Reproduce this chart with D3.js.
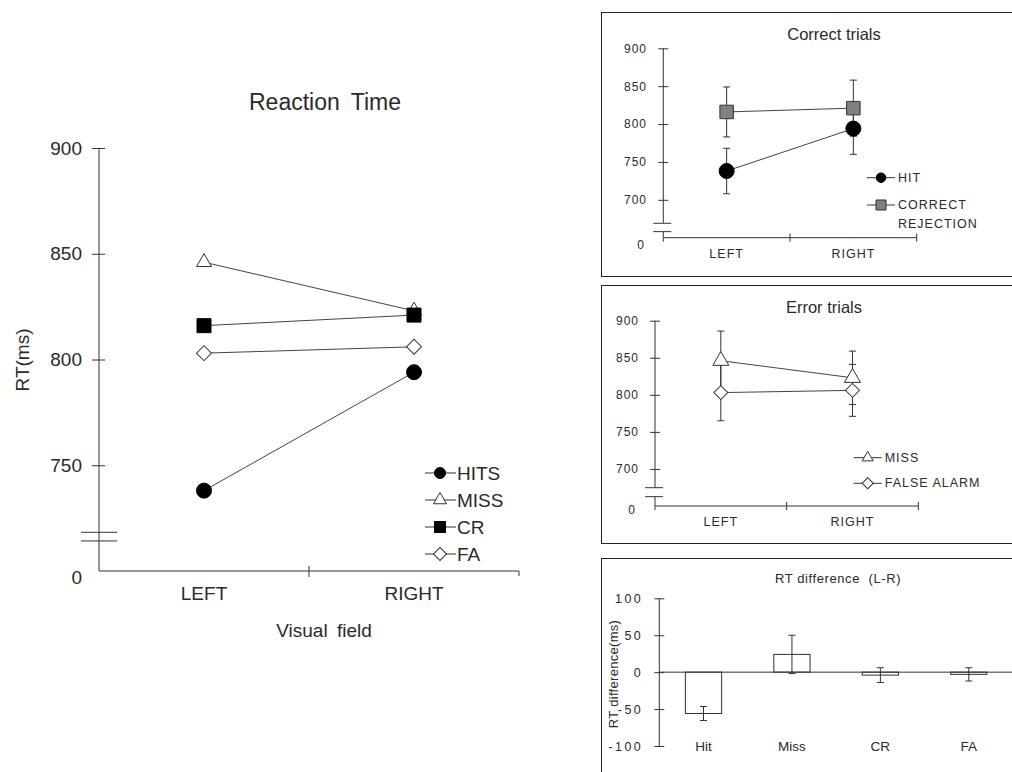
<!DOCTYPE html>
<html>
<head>
<meta charset="UTF-8">
<title>Reaction Time</title>
<script src="https://cdn.jsdelivr.net/npm/d3@7"></script>
<style>
  body { margin: 0; background: #fff; }
  svg text { font-family: "Liberation Sans", Arial, sans-serif; fill: #2a2a2a; }
</style>
</head>
<body>
<svg id="chart" width="1012" height="772"></svg>
<script>
// values (ms)
const fields = ["LEFT", "RIGHT"];
const hitRT = [738, 794];
const missRT = [846, 823];
const crRT = [816, 821];
const faRT = [803, 806];
const hitSE = [30, 34];
const crSE = [33, 37];
const missSE = [40, 36];
const faSE = [38, 35];
const mainTicks = [750, 800, 850, 900];
const panelTicks = [700, 750, 800, 850, 900];
const diffCats = ["Hit", "Miss", "CR", "FA"];
const diffRT = [-56, 24, -4, -3];
const diffSE = [9.5, 26, 10, 9];
const diffTicks = [-100, -50, 0, 50, 100];

const svg = d3.select("#chart");
const ink = "#333";

// draws one marker shape centred on x,y, w = width in px
function marker(g, kind, x, y, w, fill) {
    let sym = d3.symbol(), rot = 0;
    if (kind == "circle") sym.type(d3.symbolCircle).size(Math.PI * w * w / 4);
    else if (kind == "square") sym.type(d3.symbolSquare).size(w * w);
    else if (kind == "triangle") sym.type(d3.symbolTriangle).size(Math.sqrt(3) / 4 * w * w);
    else { sym.type(d3.symbolSquare).size(w * w / 2); rot = 45; }
    g.append("path")
        .attr("d", sym())
        .attr("transform", `translate(${x},${y}) rotate(${rot})`)
        .attr("fill", fill)
        .attr("stroke", fill == "#000" ? "#000" : ink)
        .attr("stroke-width", 1);
}

function hline(g, x1, x2, y) {
    g.append("line").attr("x1", x1).attr("x2", x2).attr("y1", y).attr("y2", y).attr("stroke", ink);
}
function vline(g, x, y1, y2) {
    g.append("line").attr("x1", x).attr("x2", x).attr("y1", y1).attr("y2", y2).attr("stroke", ink);
}

// ---------- main chart: Reaction Time ----------
{
    const g = svg.append("g");
    const x = d3.scaleBand().domain(fields).range([99, 519]);
    const y = d3.scaleLinear().domain([700, 900]).range([571, 148]);
    const cx = d => x(d) + x.bandwidth() / 2;

    const ya = g.append("g").attr("transform", "translate(99,0)")
        .call(d3.axisLeft(y).tickValues(mainTicks).tickSize(7));
    ya.select(".domain").remove();
    ya.selectAll(".tick line").attr("x1", 6).attr("x2", -7).attr("stroke", ink);
    ya.selectAll(".tick text").attr("x", -17).style("font-size", "19px");
    vline(g, 99, y(900), y(700));
    hline(g, 81, 117, y(718.3));
    hline(g, 81, 117, y(714.2));
    g.append("text").attr("x", 82).attr("y", y(700) + 6).attr("text-anchor", "end")
        .attr("dominant-baseline", "central").style("font-size", "19px").text("0");

    // x axis, ticks sit on the band edges
    hline(g, 99, 519, y(700));
    vline(g, x("RIGHT"), y(700) - 5, y(700) + 6);
    vline(g, 519, y(700), y(700) + 5);
    const xa = g.append("g").attr("transform", `translate(0,${y(700)})`)
        .call(d3.axisBottom(x).tickSize(0).tickPadding(16));
    xa.select(".domain").remove();
    xa.selectAll(".tick text").style("font-size", "19px");

    g.append("text").attr("x", 325).attr("y", 102).attr("text-anchor", "middle")
        .attr("dominant-baseline", "central").style("font-size", "23px").style("word-spacing", "5px")
        .text("Reaction Time");
    g.append("text").attr("x", 324).attr("y", 630).attr("text-anchor", "middle")
        .attr("dominant-baseline", "central").style("font-size", "19px").style("word-spacing", "4px")
        .text("Visual field");
    g.append("text").attr("transform", "translate(22,360) rotate(-90)").attr("text-anchor", "middle")
        .attr("dominant-baseline", "central").style("font-size", "19px").text("RT(ms)");

    const series = [
        { name: "HITS", vals: hitRT, kind: "circle", fill: "#000", w: 15, lw: 11 },
        { name: "MISS", vals: missRT, kind: "triangle", fill: "#fff", w: 15, lw: 13 },
        { name: "CR", vals: crRT, kind: "square", fill: "#000", w: 14, lw: 11 },
        { name: "FA", vals: faRT, kind: "diamond", fill: "#fff", w: 15, lw: 13 }
    ];
    const line = d3.line().x((v, i) => cx(fields[i])).y(v => y(v));
    series.forEach(s => {
        g.append("path").attr("d", line(s.vals)).attr("fill", "none").attr("stroke", "#444");
    });
    series.forEach(s => {
        s.vals.forEach((v, i) => marker(g, s.kind, cx(fields[i]), y(v), s.w, s.fill));
    });

    series.forEach((s, i) => {
        const ly = 473 + i * 27;
        hline(g, 425, 456, ly);
        marker(g, s.kind, 440, ly, s.lw, s.fill);
        g.append("text").attr("x", 457).attr("y", ly).attr("dominant-baseline", "central")
            .style("font-size", "19px").text(s.name);
    });
}

// ---------- small line panels with error bars ----------
function linePanel(p) {
    const g = svg.append("g");
    g.append("rect").attr("x", 601.5).attr("y", p.top + 0.5).attr("width", 440)
        .attr("height", p.bottom - p.top).attr("fill", "none").attr("stroke", "#222");
    const x = d3.scaleBand().domain(fields).range([p.x0, p.x1]);
    const y = d3.scaleLinear().domain([650, 900]).range([p.y0, p.y1]);
    const cx = d => x(d) + x.bandwidth() / 2;

    const ya = g.append("g").attr("transform", `translate(${p.x0},0)`)
        .call(d3.axisLeft(y).tickValues(panelTicks).tickSize(5));
    ya.select(".domain").remove();
    ya.selectAll(".tick line").attr("x1", 5).attr("x2", -5).attr("stroke", ink);
    ya.selectAll(".tick text").attr("x", p.labelRight - p.x0).style("font-size", "12px")
        .style("letter-spacing", "1px");
    vline(g, p.x0, y(900), y(p.breaks[0]));
    vline(g, p.x0, y(p.breaks[1]), y(650));
    hline(g, p.x0 - 10, p.x0 + 8, y(p.breaks[0]));
    hline(g, p.x0 - 10, p.x0 + 8, y(p.breaks[1]));
    g.append("text").attr("x", p.zeroX).attr("y", y(650) + p.zeroDy).attr("text-anchor", "middle")
        .attr("dominant-baseline", "central").style("font-size", "12px").text("0");

    hline(g, p.x0, p.x1, y(650));
    [x("RIGHT"), p.x1].forEach(t => vline(g, t, y(650) - 4, y(650) + 4));
    vline(g, p.x0, y(650), y(650) + 4);
    const xa = g.append("g").attr("transform", `translate(0,${y(650)})`)
        .call(d3.axisBottom(x).tickSize(0).tickPadding(11));
    xa.select(".domain").remove();
    xa.selectAll(".tick text").style("font-size", "12.5px").style("letter-spacing", "1px");

    g.append("text").attr("x", p.titleX).attr("y", p.titleY).attr("text-anchor", "middle")
        .attr("dominant-baseline", "central").style("font-size", "16.5px").text(p.title);

    p.series.forEach(s => {
        s.vals.forEach((v, i) => {
            const c = cx(fields[i]);
            vline(g, c, y(v + s.se[i]), y(v - s.se[i]));
            hline(g, c - 3.5, c + 3.5, y(v + s.se[i]));
            hline(g, c - 3.5, c + 3.5, y(v - s.se[i]));
        });
    });
    const line = d3.line().x((v, i) => cx(fields[i])).y(v => y(v));
    p.series.forEach(s => {
        g.append("path").attr("d", line(s.vals)).attr("fill", "none").attr("stroke", "#444");
    });
    p.series.forEach(s => {
        s.vals.forEach((v, i) => marker(g, s.kind, cx(fields[i]), y(v), s.w, s.fill));
    });

    p.series.forEach((s, i) => {
        const ly = p.legY[i];
        hline(g, p.legX - 14, p.legX + 14, ly);
        marker(g, s.kind, p.legX, ly, s.lw, s.fill);
        s.label.forEach((t, j) => {
            g.append("text").attr("x", p.legX + 17).attr("y", ly + j * 18.5)
                .attr("dominant-baseline", "central").style("font-size", "12.5px")
                .style("letter-spacing", "1px").text(t);
        });
    });
}

linePanel({
    top: 12, bottom: 276, x0: 663.3, x1: 916.7, y0: 237.7, y1: 48.3,
    labelRight: 647, breaks: [669, 658], zeroX: 640.5, zeroDy: 7,
    title: "Correct trials", titleX: 834, titleY: 34,
    legX: 881, legY: [177.7, 205],
    series: [
        { vals: hitRT, se: hitSE, kind: "circle", fill: "#000", w: 15, lw: 9.5, label: ["HIT"] },
        { vals: crRT, se: crSE, kind: "square", fill: "#808080", w: 13.5, lw: 10, label: ["CORRECT", "REJECTION"] }
    ]
});

linePanel({
    top: 285, bottom: 543, x0: 655, x1: 918.3, y0: 506, y1: 320.7,
    labelRight: 639, breaks: [674.7, 662.6], zeroX: 631.7, zeroDy: 4,
    title: "Error trials", titleX: 824, titleY: 306.7,
    legX: 867.7, legY: [457.7, 483.3],
    series: [
        { vals: missRT, se: missSE, kind: "triangle", fill: "#fff", w: 16, lw: 11, label: ["MISS"] },
        { vals: faRT, se: faSE, kind: "diamond", fill: "#fff", w: 14, lw: 11, label: ["FALSE ALARM"] }
    ]
});

// ---------- RT difference bars ----------
{
    const g = svg.append("g");
    g.append("rect").attr("x", 601.5).attr("y", 558.5).attr("width", 440).attr("height", 260)
        .attr("fill", "none").attr("stroke", "#222");
    const x = d3.scaleBand().domain(diffCats).range([659.3, 1013])
        .paddingInner(0.59).paddingOuter(0.295);
    const y = d3.scaleLinear().domain([-100, 100]).range([746, 598.3]);

    const ya = g.append("g").attr("transform", "translate(659.3,0)")
        .call(d3.axisLeft(y).tickValues(diffTicks).tickSize(5).tickFormat(d => String(d)));
    ya.select(".domain").remove();
    ya.selectAll(".tick line").attr("x1", 5).attr("x2", -5).attr("stroke", ink);
    ya.selectAll(".tick text").attr("x", -16).style("font-size", "12.5px").style("letter-spacing", "2.5px");
    vline(g, 659.3, y(100), y(-100));

    g.selectAll("rect.bar").data(diffRT).join("rect").attr("class", "bar")
        .attr("x", (d, i) => x(diffCats[i]))
        .attr("width", x.bandwidth())
        .attr("y", d => Math.min(y(d), y(0)))
        .attr("height", d => Math.abs(y(d) - y(0)))
        .attr("fill", "#fff").attr("stroke", ink);
    hline(g, 659.3, 1012, y(0));

    diffRT.forEach((v, i) => {
        const c = x(diffCats[i]) + x.bandwidth() / 2;
        vline(g, c, y(v + diffSE[i]), y(v - diffSE[i]));
        hline(g, c - 3.5, c + 3.5, y(v + diffSE[i]));
        hline(g, c - 3.5, c + 3.5, y(v - diffSE[i]));
    });

    const xa = g.append("g").attr("transform", `translate(0,${y(-100)})`)
        .call(d3.axisBottom(x).tickSize(0));
    xa.select(".domain").remove();
    xa.selectAll(".tick text").attr("y", 0).attr("dy", null).attr("dominant-baseline", "central")
        .style("font-size", "13.5px");

    g.append("text").attr("x", 838).attr("y", 578.3).attr("text-anchor", "middle")
        .attr("dominant-baseline", "central").style("font-size", "13px").style("letter-spacing", "0.6px")
        .style("white-space", "pre").text("RT difference  (L-R)");
    g.append("text").attr("transform", "translate(613,674) rotate(-90)").attr("text-anchor", "middle")
        .attr("dominant-baseline", "central").style("font-size", "13px").style("letter-spacing", "0.3px")
        .text("RT difference(ms)");
}
</script>
</body>
</html>
